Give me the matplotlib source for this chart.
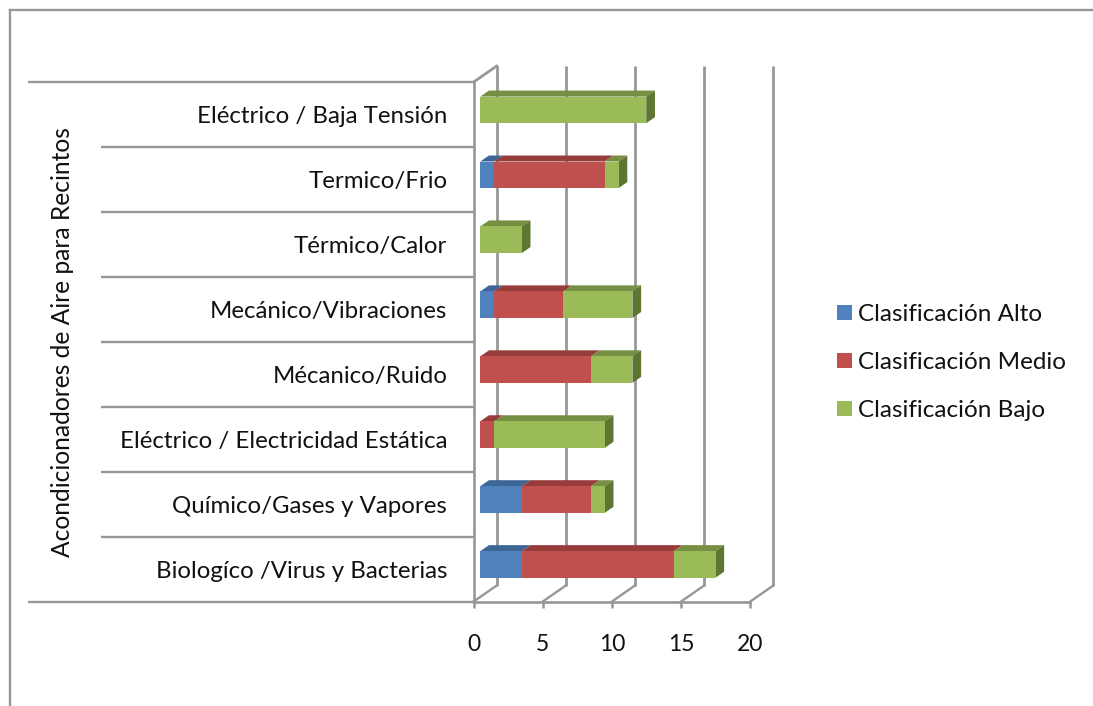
import matplotlib
matplotlib.use("Agg")
import matplotlib.pyplot as plt
from matplotlib.patches import Patch, Polygon
from matplotlib.lines import Line2D

plt.rcParams['font.family'] = ['Lato', 'DejaVu Sans']

categories = ["Biologíco /Virus y Bacterias", "Químico/Gases y Vapores",
              "Eléctrico / Electricidad Estática", "Mécanico/Ruido",
              "Mecánico/Vibraciones", "Térmico/Calor", "Termico/Frio",
              "Eléctrico / Baja Tensión"]
alto = [3, 3, 0, 0, 1, 0, 1, 0]
medio = [11, 5, 1, 8, 5, 0, 8, 0]
bajo = [3, 1, 8, 3, 5, 3, 1, 12]
series_names = ["Clasificación Alto", "Clasificación Medio", "Clasificación Bajo"]
x_ticks = [0, 5, 10, 15, 20]
y_title = "Acondicionadores de Aire para Recintos"

front = ["#4f81bd", "#c0504d", "#9bbb59"]
top_c = ["#3d6596", "#963c3a", "#778f42"]
side_c = ["#335580", "#7f3230", "#5f7632"]
GRID = "#979797"
TXT = "#111111"
FS = 17.3

W, H = 1093, 706
L, R, T, B = 473.7, 750.3, 82.0, 601.5
fig = plt.figure(figsize=(W / 100, H / 100), dpi=100)
ax = fig.add_axes([L / W, 1 - B / H, (R - L) / W, (B - T) / H])
ax.set_xlim(0, 20)
ax.set_ylim(-0.5, 7.5)
ax.set_facecolor("none")

px_x = (R - L) / 20
px_y = (B - T) / 8

# 3D look: depth of the plot box and of the bars
wall_dx, wall_dy = 23 / px_x, 16 / px_y
bar_off, bar_dx, bar_dy = 6.6 / px_x, 8.7 / px_x, 6 / px_y
bar_h, bar_shift = 26.6 / px_y, 4.6 / px_y

# Back wall gridlines and floor diagonals
for v in x_ticks:
    ax.plot([v + wall_dx, v + wall_dx], [-0.5 + wall_dy, 7.5 + wall_dy], color=GRID,
            lw=2.0, clip_on=False, zorder=1, solid_capstyle="butt")
    ax.plot([v, v + wall_dx], [-0.5, -0.5 + wall_dy], color=GRID, lw=1.7,
            clip_on=False, zorder=1)
ax.plot([0, wall_dx], [7.5, 7.5 + wall_dy], color=GRID, lw=2.0, clip_on=False, zorder=1)

# Category separators
far_left = (28 - L) / px_x
near_left = (101 - L) / px_x
for i in range(9):
    y = i - 0.5
    x0 = far_left if i in (0, 8) else near_left
    ax.plot([x0, 0], [y, y], color=GRID, lw=1.7, clip_on=False, zorder=2,
            solid_capstyle="butt")

# Bars
for i in range(len(categories)):
    vals = [alto[i], medio[i], bajo[i]]
    y0 = i + bar_shift - bar_h / 2
    y1 = y0 + bar_h
    start = 0
    last = max(k for k, v in enumerate(vals) if v > 0)
    for k, v in enumerate(vals):
        if v == 0:
            continue
        l, r = start + bar_off, start + v + bar_off
        ax.add_patch(Polygon([(l, y1), (r, y1), (r + bar_dx, y1 + bar_dy), (l + bar_dx, y1 + bar_dy)],
                             closed=True, fc=top_c[k], ec="none", zorder=3, clip_on=False))
        ax.barh(i + bar_shift, v, height=bar_h, left=l, color=front[k], zorder=4,
                edgecolor="none", clip_on=False)
        if k == last:
            ax.add_patch(Polygon([(r, y0), (r + bar_dx, y0 + bar_dy), (r + bar_dx, y1 + bar_dy), (r, y1)],
                                 closed=True, fc=side_c[k], ec="none", zorder=3, clip_on=False))
        start += v

# Axes
for s in ("top", "right"):
    ax.spines[s].set_visible(False)
for s in ("left", "bottom"):
    ax.spines[s].set_color(GRID)
    ax.spines[s].set_linewidth(1.9)
    ax.spines[s].set_zorder(2)
ax.set_xticks(x_ticks)
ax.tick_params(axis="x", length=4.5, width=1.8, color=GRID, labelcolor=TXT,
               labelsize=16.5, pad=19)
ax.set_yticks(range(len(categories)))
ax.set_yticklabels(categories)
ax.tick_params(axis="y", length=0, labelcolor=TXT, labelsize=FS, pad=19)
ax.set_ylabel(y_title, fontsize=17.7, color=TXT)
ax.yaxis.set_label_coords((74 - L) / (R - L), 0.5)

# Legend
handles = [Patch(fc=c, ec="none") for c in front]
fig.legend(handles, series_names, loc="upper left",
           bbox_to_anchor=(837 / W, 1 - 304 / H), borderaxespad=0, borderpad=0,
           frameon=False, fontsize=17.5, labelspacing=1.11, handlelength=0.62,
           handleheight=0.62, handletextpad=0.25, labelcolor=TXT)

# Outer frame (top and left edges)
fig.add_artist(Line2D([9.5 / W, 9.5 / W], [0, 1 - 10 / H], color=GRID, lw=1.7,
                      transform=fig.transFigure))
fig.add_artist(Line2D([9.5 / W, 1], [1 - 10 / H, 1 - 10 / H], color=GRID, lw=1.7,
                      transform=fig.transFigure))

fig.savefig("out.png", dpi=100, facecolor="white")
